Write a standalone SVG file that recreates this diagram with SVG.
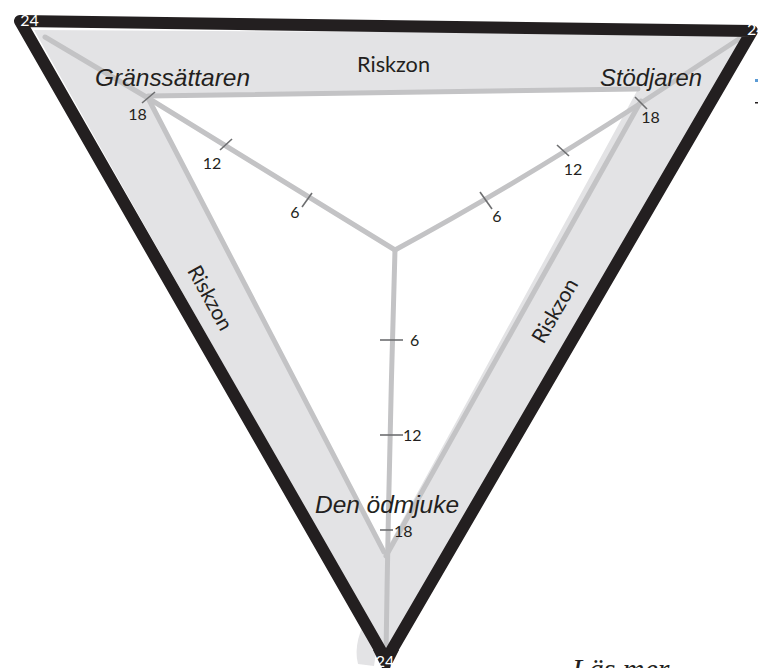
<svg xmlns="http://www.w3.org/2000/svg" width="758" height="668" viewBox="0 0 758 668">
<style>
.band{fill:#e3e3e5;fill-rule:evenodd}
.gl{fill:none;stroke:#c3c3c5;stroke-width:5;stroke-linecap:round;stroke-linejoin:round}
.tk{stroke:#6d6e70;stroke-width:1.6}
.blk{fill:none;stroke:#231f20;stroke-width:12;stroke-linejoin:round}
.num{font-family:Lato,"Liberation Sans",sans-serif;font-size:16px;fill:#231f20}
.w{fill:#ffffff}
.name{font-family:"Liberation Sans",Arial,sans-serif;font-style:italic;font-size:24px;fill:#231f20}
.rz{font-family:Lato,"Liberation Sans",sans-serif;font-size:21px;fill:#231f20}
</style>
<rect width="758" height="668" fill="#ffffff"/>
<g id="riskzone-band">
<path class="band" d="M34,30 L746,34 L386,652 Z M148,96 L638,89 L385,552 Z"/>
<path d="M371,612 Q352,640 358,664 L374,666 L378,640 Z" fill="#e3e3e5"/>
</g>
<g id="connectors">
<path class="gl" d="M148,96 L638,89"/>
<path class="gl" d="M148,98 L384,552"/>
<path class="gl" d="M641,101 L386,556"/>
<path class="gl" d="M395,250 L148,98 L45,37"/>
<path class="gl" d="M395,250 Q515,185 641,103 L745,35"/>
<path class="gl" d="M395,250 Q389,450 386,655"/>
<line class="tk" x1="142" y1="103" x2="155" y2="92"/>
<line class="tk" x1="220" y1="150" x2="232" y2="139"/>
<line class="tk" x1="302" y1="207" x2="312" y2="193"/>
<line class="tk" x1="635" y1="97" x2="647" y2="109"/>
<line class="tk" x1="557" y1="145" x2="569" y2="156"/>
<line class="tk" x1="480" y1="192" x2="492" y2="209"/>
<line class="tk" x1="380" y1="340" x2="403" y2="340"/>
<line class="tk" x1="380" y1="435" x2="403" y2="435"/>
<line class="tk" x1="380" y1="530" x2="393" y2="530"/>
</g>
<g id="frame">
<path class="blk" d="M20,21 L752,31 L386,660 Z"/>
<polygon points="373,650 399,650 386,676" fill="#231f20"/>
</g>
<g id="node-granssattaren">
<text class="name" x="95" y="86" textLength="155" lengthAdjust="spacingAndGlyphs">Gränssättaren</text>
</g>
<g id="node-stodjaren">
<text class="name" x="600" y="86" textLength="102" lengthAdjust="spacingAndGlyphs">Stödjaren</text>
</g>
<g id="node-den-odmjuke">
<text class="name" x="315" y="513" textLength="144" lengthAdjust="spacingAndGlyphs">Den ödmjuke</text>
</g>
<g id="labels">
<text class="rz" x="357" y="72" textLength="73" lengthAdjust="spacingAndGlyphs">Riskzon</text>
<text class="rz" text-anchor="middle" transform="translate(210,298) rotate(61)" y="7">Riskzon</text>
<text class="rz" text-anchor="middle" transform="translate(555,311) rotate(-60)" y="7">Riskzon</text>
<text class="num" x="137.5" y="120" text-anchor="middle">18</text>
<text class="num" x="212" y="169" text-anchor="middle">12</text>
<text class="num" x="295" y="218" text-anchor="middle">6</text>
<text class="num" x="650.5" y="123" text-anchor="middle">18</text>
<text class="num" x="573" y="175" text-anchor="middle">12</text>
<text class="num" x="497" y="222" text-anchor="middle">6</text>
<text class="num" x="410" y="346">6</text>
<text class="num" x="403" y="441">12</text>
<text class="num" x="394" y="537">18</text>
<text class="num w" x="29.5" y="26" text-anchor="middle">24</text>
<text class="num w" x="747" y="35">24</text>
<text class="num w" x="385" y="667" text-anchor="middle">24</text>
<text x="572" y="679" font-family="'Liberation Serif',serif" font-style="italic" font-size="30" fill="#231f20">Läs mer</text>
<rect x="755" y="79" width="3" height="3" fill="#5b9bd5"/>
<rect x="755" y="102" width="3" height="1.5" fill="#231f20"/>
</g>
</svg>
